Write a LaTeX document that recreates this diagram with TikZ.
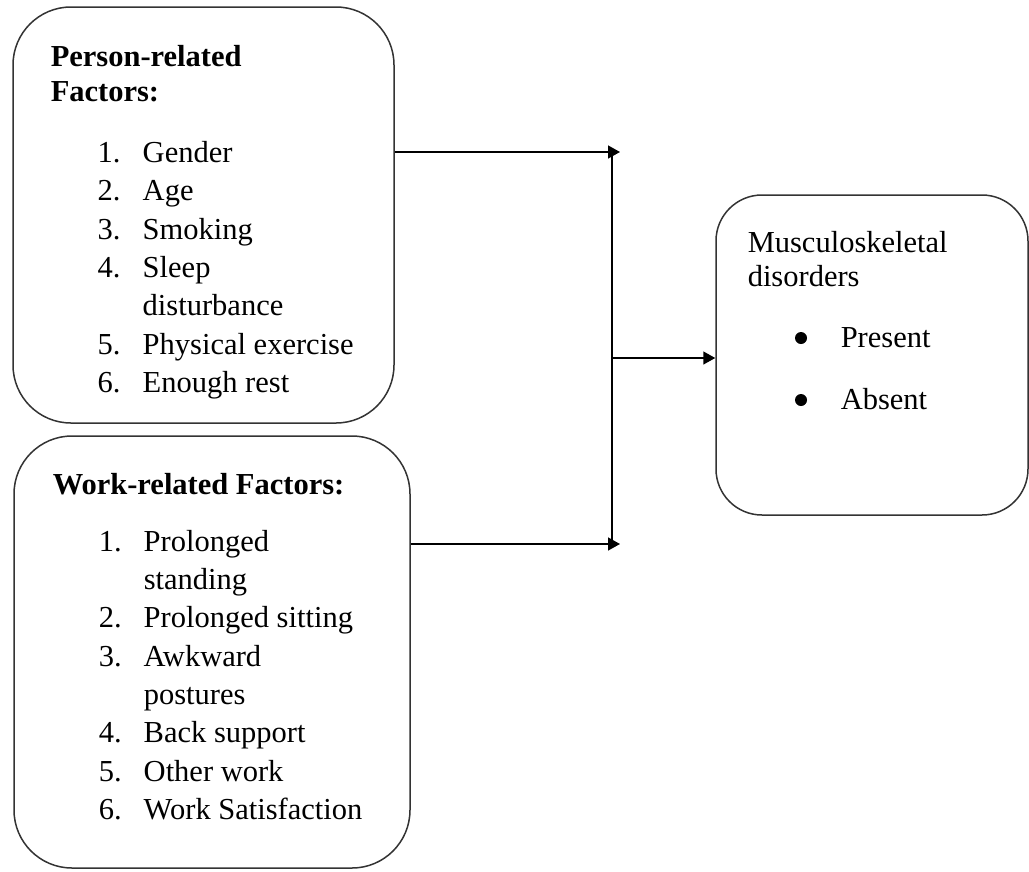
\documentclass[tikz,border=0pt]{standalone}
\usepackage{fontspec}
\setmainfont{Liberation Serif}
\usetikzlibrary{arrows.meta}

\begin{document}
\begin{tikzpicture}[x=1pt, y=-1pt, line width=1.5pt,
  box/.style={draw=black!80, rounded corners=58pt, inner sep=0pt},
  txt/.style={inner sep=0pt, font=\fontsize{30.5}{38.3}\selectfont},
  conn/.style={-{Triangle[length=12pt,width=13pt]}}]
\useasboundingbox (0,0) rectangle (1029,871);
% boxes
\node[box, minimum width=381pt, minimum height=416pt] (person) at (203.5,215) {};
\node[box, minimum width=396pt, minimum height=432pt] (work) at (212,652) {};
\node[box, rounded corners=46pt, minimum width=312pt, minimum height=320pt] (msd) at (872,355) {};
% person-related
\node[txt, anchor=base west] (persontxt) at (50,66) {\begin{tabular}[t]{@{}p{47pt}@{}p{45pt}@{}l@{}}
  \multicolumn{3}{@{}l@{}}{\textbf{Person-related}}\\[-3pt]
  \multicolumn{3}{@{}l@{}}{\textbf{Factors:}}\\[23pt]
  & 1. & Gender\\
  & 2. & Age\\
  & 3. & Smoking\\
  & 4. & Sleep\\
  &    & disturbance\\
  & 5. & Physical exercise\\
  & 6. & Enough rest
\end{tabular}};
% work-related
\node[txt, anchor=base west] (worktxt) at (52,494) {\begin{tabular}[t]{@{}p{46pt}@{}p{45pt}@{}l@{}}
  \multicolumn{3}{@{}l@{}}{\textbf{Work-related Factors:}}\\[19pt]
  & 1. & Prolonged\\
  &    & standing\\
  & 2. & Prolonged sitting\\
  & 3. & Awkward\\
  &    & postures\\
  & 4. & Back support\\
  & 5. & Other work\\
  & 6. & Work Satisfaction
\end{tabular}};
% outcome
\node[txt, anchor=base west] (msdtxt) at (747,252) {\begin{tabular}[t]{@{}p{93pt}@{}l@{}}
  \multicolumn{2}{@{}l@{}}{Musculoskeletal}\\[-4pt]
  \multicolumn{2}{@{}l@{}}{disorders}\\[23pt]
  & Present\\[24pt]
  & Absent
\end{tabular}};
% bullets
\fill (801,338) circle (6pt);
\fill (801,400) circle (6pt);
% arrows
\coordinate (tipa) at (620,152);
\coordinate (tipb) at (620,544);
\coordinate (join) at (612,358);
\draw[conn] (person.east |- tipa) -- (tipa);
\draw[conn] (work.east |- tipb) -- (tipb);
\draw (tipa -| join) -- (tipb -| join);
\draw[conn] (join) -- (msd.west |- join);
\end{tikzpicture}
\end{document}
